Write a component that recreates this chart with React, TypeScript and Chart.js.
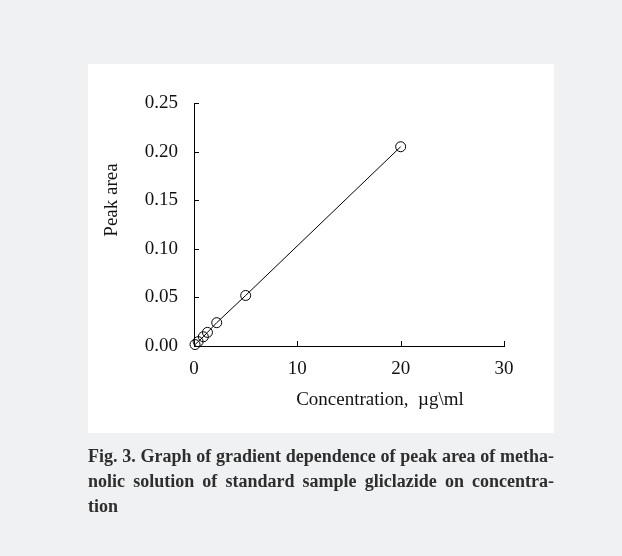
import React, { useEffect, useRef } from "react";
import { Chart, registerables } from "chart.js";

Chart.register(...registerables);

const concentration = [0.1, 0.4, 0.9, 1.3, 2.2, 5, 20];
const peakArea = [0.0015, 0.0045, 0.0095, 0.014, 0.024, 0.052, 0.205];
const xTitle = "Concentration,  µg\\ml";
const yTitle = "Peak area";
const captionLines = [
  "Fig. 3. Graph of gradient dependence of peak area of metha-",
  "nolic solution of standard sample gliclazide on concentra-",
  "tion",
];

const FONT = '"Liberation Serif", "Times New Roman", serif';

const decorPlugin = {
  id: "decor",
  afterDraw(chart: any) {
    const ctx = chart.ctx;
    const xs = chart.scales.x;
    const ys = chart.scales.y;
    ctx.save();
    ctx.strokeStyle = "#000";
    ctx.lineWidth = 1;
    ctx.beginPath();
    xs.ticks.forEach((t: any) => {
      const px = Math.round(xs.getPixelForValue(t.value)) + 0.5;
      ctx.moveTo(px, xs.top);
      ctx.lineTo(px, xs.top - 5);
    });
    ys.ticks.forEach((t: any) => {
      const py = Math.round(ys.getPixelForValue(t.value)) + 0.5;
      ctx.moveTo(ys.right, py);
      ctx.lineTo(ys.right + 5, py);
    });
    ctx.stroke();
    ctx.fillStyle = "#111";
    ctx.font = "19px " + FONT;
    ctx.textAlign = "center";
    ctx.textBaseline = "middle";
    ctx.fillText(xTitle, 380, 400);
    ctx.translate(112, 200);
    ctx.rotate(-Math.PI / 2);
    ctx.fillText(yTitle, 0, 0);
    ctx.restore();
  },
};

export default function App() {
  const ref = useRef<HTMLCanvasElement | null>(null);
  useEffect(() => {
    if (!ref.current) return;
    const chart = new Chart(ref.current, {
      type: "scatter",
      data: {
        datasets: [
          {
            data: concentration.map((c, i) => ({ x: c, y: peakArea[i] })),
            showLine: true,
            borderColor: "#000",
            borderWidth: 1,
            pointRadius: 5,
            pointBorderWidth: 1,
            pointBorderColor: "#000",
            pointBackgroundColor: "rgba(0,0,0,0)",
            clip: false as any,
          },
        ],
      },
      options: {
        animation: false,
        responsive: false,
        maintainAspectRatio: false,
        layout: { padding: { left: 94, right: 118, top: 103, bottom: 150 } },
        plugins: { legend: { display: false }, tooltip: { enabled: false } },
        scales: {
          x: {
            type: "linear",
            min: 0,
            max: 30,
            afterFit: (s: any) => {
              s.height = 60;
            },
            grid: { display: false, drawTicks: false },
            border: { display: true, color: "#000", width: 1 },
            ticks: {
              stepSize: 10,
              padding: 12,
              color: "#111",
              font: { family: FONT, size: 19 },
              maxRotation: 0,
            },
          },
          y: {
            type: "linear",
            min: 0,
            max: 0.25,
            afterFit: (s: any) => {
              s.width = 100;
            },
            grid: { display: false, drawTicks: false },
            border: { display: true, color: "#000", width: 1 },
            ticks: {
              stepSize: 0.05,
              padding: 16,
              color: "#111",
              font: { family: FONT, size: 19 },
              callback: (v: any) => Number(v).toFixed(2),
            },
          },
        },
      },
      plugins: [decorPlugin],
    });
    return () => chart.destroy();
  }, []);

  return (
    <div
      style={{
        position: "fixed",
        left: 0,
        top: 0,
        width: 622,
        height: 556,
        background: "#f0f1f3",
        overflow: "hidden",
      }}
    >
      <div
        style={{
          position: "absolute",
          left: 88,
          top: 64,
          width: 466,
          height: 369,
          background: "#ffffff",
        }}
      />
      <canvas
        ref={ref}
        width={622}
        height={556}
        style={{ position: "absolute", left: 0, top: 0, width: 622, height: 556 }}
      />
      <div
        style={{
          position: "absolute",
          left: 88,
          top: 444,
          width: 466,
          fontFamily: FONT,
          fontWeight: "bold",
          fontSize: 18,
          lineHeight: "25px",
          color: "#2e2e2e",
        }}
      >
        {captionLines.map((line, i) => (
          <div
            key={i}
            style={{
              textAlign: i < captionLines.length - 1 ? "justify" : "left",
              textAlignLast: i < captionLines.length - 1 ? "justify" : "left",
              whiteSpace: "nowrap",
            }}
          >
            {line}
          </div>
        ))}
      </div>
    </div>
  );
}
